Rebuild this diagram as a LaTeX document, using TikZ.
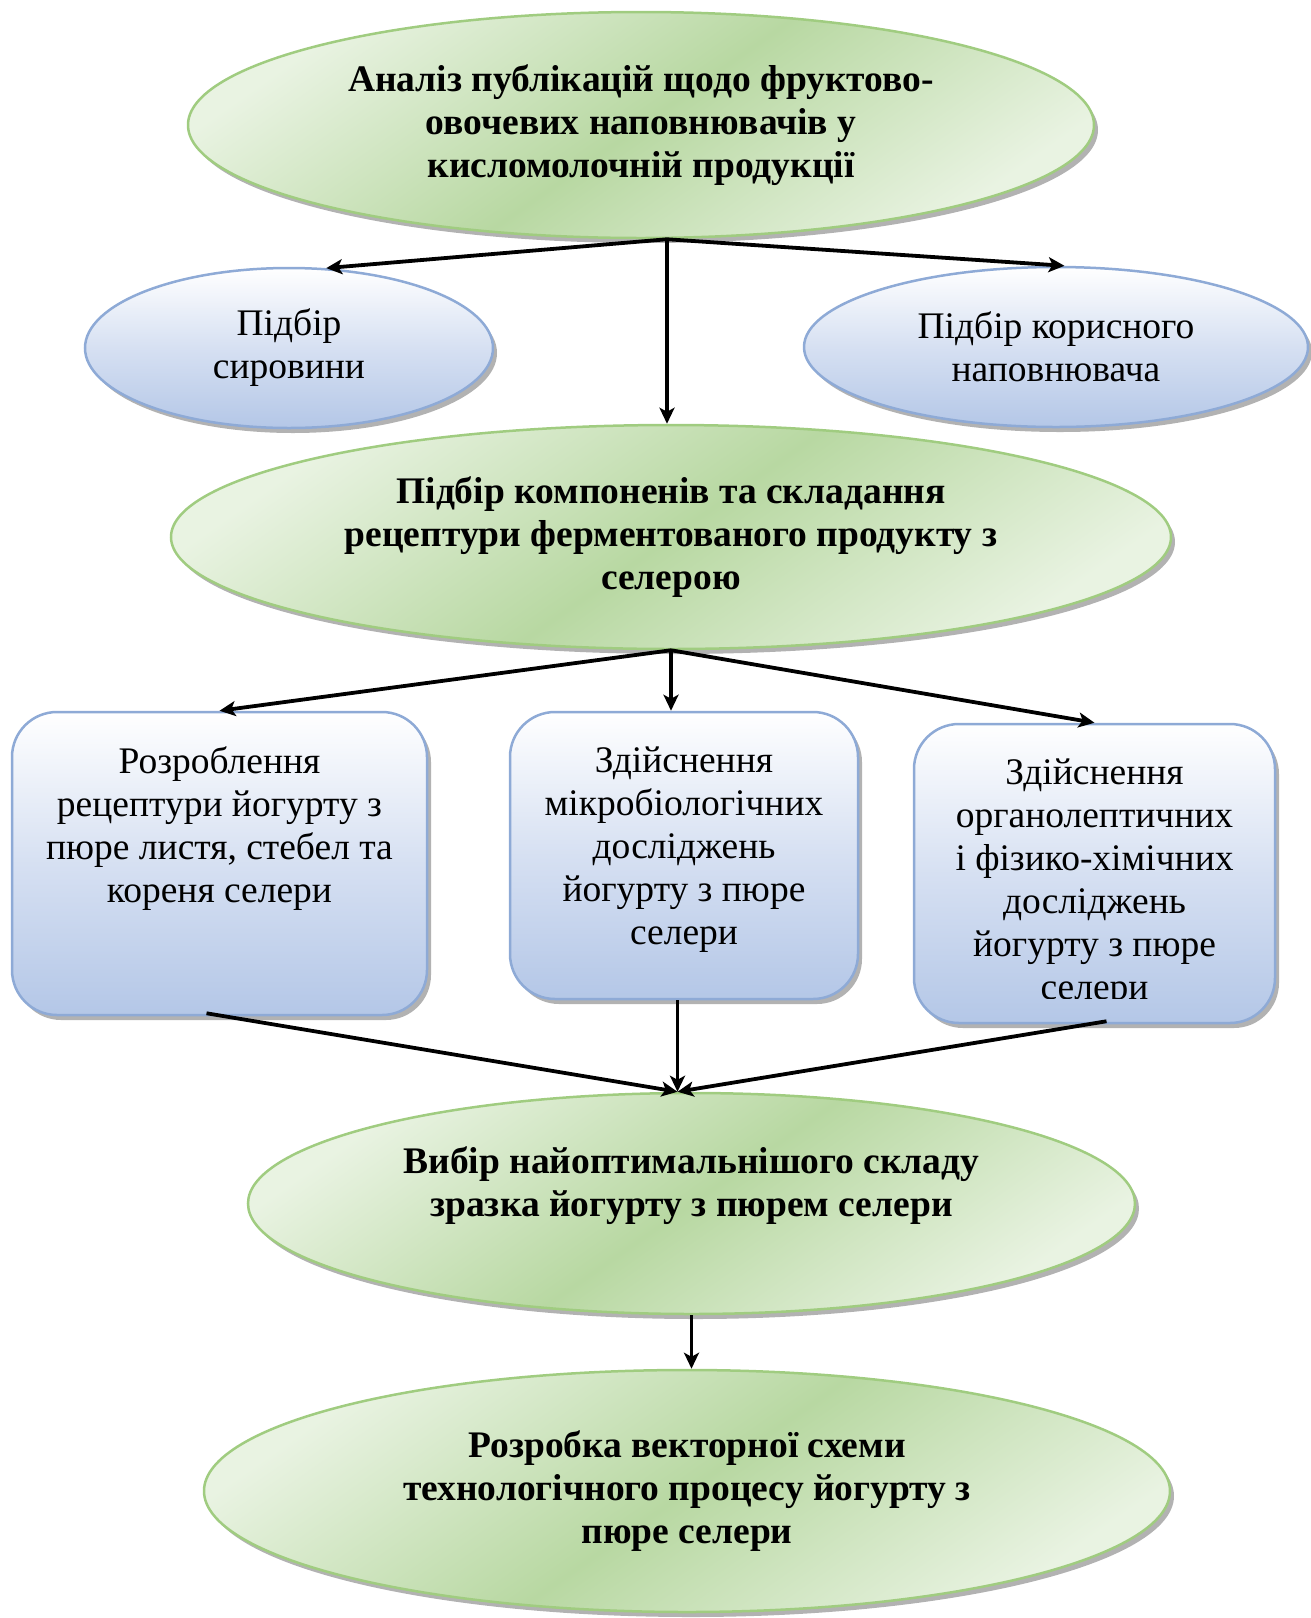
\documentclass[tikz,border=0pt]{standalone}
\usepackage{fontspec}
\setmainfont{Liberation Serif}
\usetikzlibrary{shapes.geometric,shadows,arrows.meta,calc}
\definecolor{gline}{RGB}{160,204,128}
\definecolor{glight}{RGB}{233,243,226}
\definecolor{gdark}{RGB}{184,216,162}
\definecolor{bline}{RGB}{142,170,214}
\definecolor{bmid}{RGB}{214,224,242}
\definecolor{bdark}{RGB}{180,199,231}
\begin{document}
\begin{tikzpicture}[x=1pt,y=-1pt,
  shad/.style={drop shadow={shadow xshift=4pt,shadow yshift=-5pt,fill=black,opacity=0.3}},
  txt/.style={font=\fontsize{37.5}{43}\selectfont},
  gell/.style={ellipse, draw=gline, line width=2.5pt, shad, top color=glight, bottom color=glight, middle color=gdark, shading angle=35, inner sep=0pt, align=center, font=\fontsize{37.5}{43}\selectfont\bfseries},
  bell/.style={ellipse, draw=bline, line width=2.5pt, shad, top color=white, bottom color=bdark, middle color=bmid, inner sep=0pt, align=center, txt},
  bbox/.style={rectangle, rounded corners=45pt, draw=bline, line width=2.5pt, shad, top color=white, bottom color=bdark, middle color=bmid, inner sep=0pt},
  btext/.style={anchor=north, align=center, inner sep=0pt, txt},
  arr/.style={line width=3.8pt, -{Stealth[length=16pt,width=15pt,inset=4pt]}}
]
\useasboundingbox (0,0) rectangle (1310,1618);

\node[gell, minimum width=906pt, minimum height=226pt] (top) at (641,125)
  {Аналіз публікацій щодо фруктово-\\овочевих наповнювачів у\\кисломолочній продукції};

\node[bell, minimum width=408pt, minimum height=160pt] (lsm) at (289,348) {Підбір\\сировини};
\node[bell, minimum width=504pt, minimum height=160pt] (rsm) at (1056,347) {Підбір корисного\\наповнювача};

\node[gell, minimum width=1000pt, minimum height=224pt] (e2) at (671,537)
  {Підбір компоненів та складання\\рецептури ферментованого продукту з\\селерою};

\node[bbox, minimum width=415pt, minimum height=303pt] (b1) at (219.5,863.5) {};
\node[bbox, minimum width=348pt, minimum height=287pt] (b2) at (684,855.5) {};
\node[bbox, minimum width=361pt, minimum height=299pt] (b3) at (1094.5,873.5) {};

\node[btext] (b1t) at ($(b1.north)+(0,36)$) {Розроблення\\рецептури йогурту з\\пюре листя, стебел та\\кореня селери};
\node[btext] (b2t) at ($(b2.north)+(0,36)$) {Здійснення\\мікробіологічних\\досліджень\\йогурту з пюре\\селери};
\begin{scope}
  \clip (b3.north west) rectangle ($(b3.south east)+(0,-26)$);
  \node[btext] (b3t) at ($(b3.north)+(0,36)$) {Здійснення\\органолептичних\\і фізико-хімічних\\досліджень\\йогурту з пюре\\селери};
\end{scope}

\node[gell, minimum width=887pt, minimum height=221pt] (e3) at (691.5,1203.5)
  {Вибір найоптимальнішого складу\\зразка йогурту з пюрем селери\\\mbox{}};

\node[gell, minimum width=966pt, minimum height=242pt] (e4) at (687,1491)
  {Розробка векторної схеми\\технологічного процесу йогурту з\\пюре селери};

\coordinate (j1) at ($(top.south)+(26,0)$);
\coordinate (j3) at ($(e3.north)+(-14,0)$);

\draw[arr] (j1) -- (lsm.65);
\draw[arr] (j1) -- (rsm.84);
\draw[arr] (j1) -- (j1 |- e2.north);
\draw[arr] (e2.south) -- (b1.north);
\draw[arr] (e2.south) -- (e2.south |- b2.north);
\draw[arr] (e2.south) -- (b3.north);
\draw[arr] ($(b1.south)+(-13,-3)$) -- (j3);
\draw[arr] (b2.south -| j3) -- (j3);
\draw[arr] ($(b3.south)+(12,-3)$) -- (j3);
\draw[arr] (e3.south) -- (e3.south |- e4.north);
\end{tikzpicture}
\end{document}
